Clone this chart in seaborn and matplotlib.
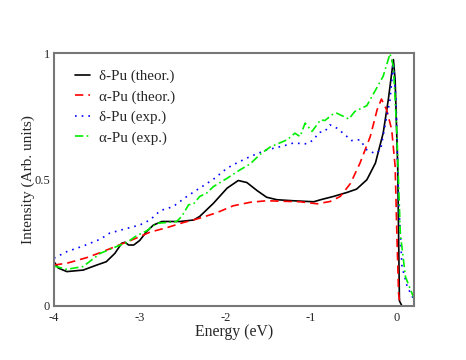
import numpy as np
import pandas as pd
import matplotlib
matplotlib.use("Agg")
import matplotlib.pyplot as plt
import seaborn as sns
from matplotlib.ticker import MultipleLocator

# delta-Pu, theory (solid black)
e_dth = [-4.0, -3.95, -3.85, -3.66, -3.5, -3.39, -3.29, -3.21, -3.17, -3.13, -3.07, -3.0, -2.92, -2.84, -2.74,
         -2.53, -2.37, -2.30, -2.14, -1.98, -1.85, -1.75, -1.63, -1.52, -1.40, -1.21, -0.97, -0.89,
         -0.74, -0.58, -0.47, -0.35, -0.25, -0.16, -0.10, -0.04, -0.02, 0.01, 0.03, 0.06, 0.2]
i_dth = [0.175, 0.15, 0.136, 0.142, 0.162, 0.175, 0.208, 0.248, 0.252, 0.241, 0.241, 0.259, 0.294, 0.32, 0.334,
         0.334, 0.34, 0.354, 0.406, 0.466, 0.496, 0.488, 0.456, 0.43, 0.42, 0.416, 0.412, 0.42,
         0.433, 0.449, 0.462, 0.499, 0.565, 0.683, 0.815, 0.974, 0.894, 0.55, 0.02, 0.0, 0.0]

# alpha-Pu, theory (dashed red)
e_ath = [-4.0, -3.85, -3.62, -3.46, -3.27, -3.07, -2.88, -2.68, -2.49, -2.30, -2.10, -1.91, -1.71,
         -1.52, -1.13, -0.93, -0.78, -0.66, -0.54, -0.43, -0.31, -0.23, -0.18, -0.12, -0.06, -0.02,
         0.0, 0.02, 0.04, 0.2]
i_ath = [0.162, 0.169, 0.191, 0.211, 0.237, 0.264, 0.292, 0.31, 0.33, 0.347, 0.369, 0.396, 0.41,
         0.416, 0.412, 0.404, 0.413, 0.433, 0.485, 0.565, 0.67, 0.776, 0.818, 0.776, 0.697, 0.551,
         0.288, 0.05, 0.0, 0.0]

# delta-Pu, experiment (dotted blue)
e_dex = [-4.0, -3.85, -3.66, -3.46, -3.35, -3.19, -3.0, -2.88, -2.76, -2.61, -2.45, -2.30, -2.14,
         -1.98, -1.87, -1.71, -1.52, -1.32, -1.21, -1.05, -0.97, -0.91, -0.84, -0.78, -0.70, -0.62,
         -0.53, -0.43, -0.35, -0.25, -0.19, -0.14, -0.08, -0.04, -0.01, 0.02, 0.06, 0.12, 0.2]
i_dex = [0.189, 0.215, 0.237, 0.264, 0.288, 0.303, 0.32, 0.34, 0.377, 0.393, 0.433, 0.466, 0.501,
         0.545, 0.565, 0.591, 0.617, 0.633, 0.644, 0.641, 0.657, 0.686, 0.69, 0.716, 0.703, 0.681,
         0.654, 0.657, 0.617, 0.602, 0.617, 0.71, 0.815, 0.96, 0.815, 0.42, 0.156, 0.077, 0.024]

# alpha-Pu, experiment (dash-dot green)
e_aex = [-4.0, -3.85, -3.66, -3.46, -3.27, -3.15, -3.04, -2.92, -2.80, -2.68, -2.57, -2.51, -2.43,
         -2.37, -2.30, -2.22, -2.14, -1.98, -1.83, -1.71, -1.60, -1.48, -1.28, -1.19, -1.13, -1.07,
         -0.99, -0.89, -0.84, -0.74, -0.70, -0.56, -0.49, -0.35, -0.23, -0.16, -0.08, -0.04, 0.0,
         0.04, 0.10, 0.2]
i_aex = [0.158, 0.145, 0.156, 0.208, 0.235, 0.251, 0.277, 0.297, 0.327, 0.33, 0.334, 0.354, 0.4,
         0.404, 0.433, 0.446, 0.472, 0.505, 0.538, 0.562, 0.598, 0.628, 0.657, 0.683, 0.67, 0.723,
         0.69, 0.736, 0.733, 0.76, 0.762, 0.739, 0.769, 0.792, 0.865, 0.908, 0.997, 0.947, 0.683,
         0.288, 0.116, 0.03]

series = [
    ("δ-Pu (theor.)", e_dth, i_dth, "black", "-"),
    ("α-Pu (theor.)", e_ath, i_ath, "red", (0, (5, 3))),
    ("δ-Pu (exp.)", e_dex, i_dex, "blue", (0, (1, 3))),
    ("α-Pu (exp.)", e_aex, i_aex, "#00ee00", (0, (5, 2, 1, 2))),
]

sns.set_style("white")
plt.rcParams["font.family"] = ["Liberation Serif", "DejaVu Serif"]

fig, ax = plt.subplots(figsize=(4.66, 3.6), dpi=100)
for label, e, inten, col, ls in series:
    df = pd.DataFrame({"E": e, "I": inten})
    sns.lineplot(data=df, x="E", y="I", color=col, linestyle=ls, linewidth=1.2,
                 label=label, ax=ax, sort=False)

ax.set_xlim(-4, 0.2)
ax.set_ylim(0, 1)
ax.xaxis.set_minor_locator(MultipleLocator(0.5))
ax.yaxis.set_minor_locator(MultipleLocator(0.25))
ax.set_xticks([-4, -3, -2, -1, 0])
ax.set_xticklabels(["-4", "-3", "-2", "-1", "0"])
ax.set_yticks([0, 0.5, 1])
ax.set_yticklabels(["0", "0.5", "1"])
ax.tick_params(which="both", direction="in", color="#777777", width=1, labelsize=9)
ax.tick_params(axis="x", pad=4)
ax.tick_params(axis="y", pad=3)
ax.tick_params(which="major", length=5)
ax.tick_params(which="minor", length=3)
for sp in ax.spines.values():
    sp.set_color("#777777")
    sp.set_linewidth(1.5)

ax.set_xlabel("Energy (eV)", fontsize=11.3, labelpad=0)
ax.set_ylabel("Intensity (Arb. units)", fontsize=11, labelpad=-1)
ax.legend(loc="upper left", frameon=False, fontsize=10.8, handlelength=1.0,
          handletextpad=0.6, labelspacing=0.45, borderaxespad=0.3, bbox_to_anchor=(0.03, 0.975))

fig.subplots_adjust(left=54/466, right=414/466, top=1-53/360, bottom=1-306/360)
fig.savefig("out.png", dpi=100)
